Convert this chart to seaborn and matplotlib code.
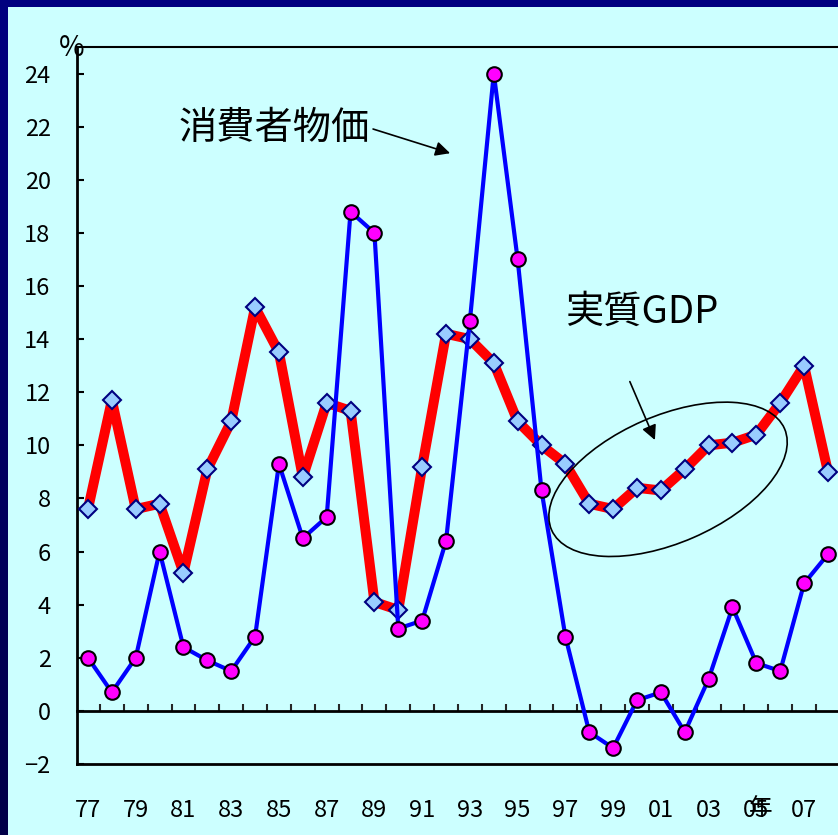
import numpy as np
import pandas as pd
import seaborn as sns
import matplotlib.pyplot as plt
from matplotlib.patches import Ellipse, Rectangle
from matplotlib.transforms import ScaledTranslation
from matplotlib.colors import LinearSegmentedColormap

# 年次データ（前年比、%）
years = list(range(1977, 2009))
gdp = [7.6, 11.7, 7.6, 7.8, 5.2, 9.1, 10.9, 15.2, 13.5, 8.8, 11.6, 11.3,
       4.1, 3.8, 9.2, 14.2, 14.0, 13.1, 10.9, 10.0, 9.3, 7.8, 7.6, 8.4,
       8.3, 9.1, 10.0, 10.1, 10.4, 11.6, 13.0, 9.0]
cpi = [2.0, 0.7, 2.0, 6.0, 2.4, 1.9, 1.5, 2.8, 9.3, 6.5, 7.3, 18.8,
       18.0, 3.1, 3.4, 6.4, 14.7, 24.0, 17.0, 8.3, 2.8, -0.8, -1.4, 0.4,
       0.7, -0.8, 1.2, 3.9, 1.8, 1.5, 4.8, 5.9]
xtick_years = years[:-1:2]
xtick_labels = [f"{y % 100:02d}" for y in xtick_years]
ytick_values = list(range(-2, 25, 2))
label_cpi = "消費者物価"
label_gdp = "実質GDP"

df = pd.DataFrame({"year": years, "gdp": gdp, "cpi": cpi})

sns.set_style("white")
plt.rcParams["font.family"] = ["Noto Sans CJK JP", "DejaVu Sans"]
plt.rcParams["text.color"] = "black"

W, H = 838, 835
fig = plt.figure(figsize=(W / 100, H / 100), dpi=100)
fig.patch.set_facecolor("#000080")

# 左側の濃紺グラデーション帯
strip = fig.add_axes([0, 0, 7 / W, 1])
grad = np.linspace(0, 1, 256).reshape(-1, 1)
cmap = LinearSegmentedColormap.from_list("navy", ["#000080", "#000048"])
strip.imshow(grad, aspect="auto", cmap=cmap, extent=[0, 1, 0, 1], origin="upper")
strip.set_axis_off()

# 薄い水色の背景
fig.patches.append(Rectangle((7 / W, 0), 1 - 7 / W, 1 - 7 / H,
                             transform=fig.transFigure, facecolor="#CCFFFF",
                             edgecolor="none", zorder=-1))

ax = fig.add_axes([77 / W, (H - 764) / H, (W - 77) / W, (764 - 47) / H])
ax.set_facecolor("none")

sns.lineplot(data=df, x="year", y="gdp", ax=ax, color="#FF0000", linewidth=7.2,
             marker="D", markersize=9.5, markerfacecolor="#99CCFF",
             markeredgecolor="#000080", markeredgewidth=1.5, zorder=3)
sns.lineplot(data=df, x="year", y="cpi", ax=ax, color="#0000FF", linewidth=3,
             marker="o", markersize=10.5, markerfacecolor="#FF00FF",
             markeredgecolor="#000000", markeredgewidth=1.5, zorder=4)

ax.set_xlim(1976.54, 2008.42)
ax.set_ylim(-2, 25)
ax.set_xlabel("")
ax.set_ylabel("")

ax.set_yticks(ytick_values)
ax.set_yticklabels([str(v).replace("-", "\u2212") for v in ytick_values])
ax.tick_params(axis="y", direction="in", length=5, width=1.5, pad=19,
               labelsize=17, colors="black", left=True)
ax.set_xticks(xtick_years)
ax.set_xticklabels(xtick_labels)
ax.tick_params(axis="x", length=0, pad=25, labelsize=17, colors="black")

for side in ("left", "bottom"):
    ax.spines[side].set_linewidth(2)
    ax.spines[side].set_color("black")
ax.spines["top"].set_linewidth(1.5)
ax.spines["top"].set_color("black")
ax.spines["right"].set_visible(False)

# ゼロ線と年区切りの目盛り
zero = ax.secondary_xaxis((0 - (-2)) / 27)
zero.set_xticks(np.arange(1977.5, 2008, 1))
zero.tick_params(direction="in", length=5, width=1.5, labelbottom=False)
zero.spines["bottom"].set_linewidth(2)
zero.spines["bottom"].set_color("black")

ax.text(1976.3, 24.95, "%", fontsize=20, ha="center", va="center", clip_on=False)
ax.text(2005.2, -0.0614, "年", fontsize=17, ha="center", va="center",
        transform=ax.get_xaxis_transform(), clip_on=False)

ax.annotate(label_cpi, xy=(1992.17, 21.0), xytext=(1984.8, 21.95),
            fontsize=27.5, ha="center", va="center",
            arrowprops=dict(arrowstyle="-|>", color="black", lw=1.2,
                            mutation_scale=22, shrinkA=0, shrinkB=0,
                            relpos=(1.0, 0.5)))
ax.annotate(label_gdp, xy=(2000.75, 10.2), xytext=(2000.2, 15.0),
            fontsize=27.5, ha="center", va="center")
ax.annotate("", xy=(2000.75, 10.2), xytext=(1999.7, 12.4),
            arrowprops=dict(arrowstyle="-|>", color="black", lw=1.2,
                            mutation_scale=22, shrinkA=0, shrinkB=0))

ell = Ellipse((0, 0), 2.54, 1.27, angle=23.5, facecolor="none",
              edgecolor="black", linewidth=1.2, zorder=5,
              transform=fig.dpi_scale_trans + ScaledTranslation(2001.3, 8.72, ax.transData))
ax.add_patch(ell)

fig.savefig("out.png", dpi=100, facecolor=fig.get_facecolor())
